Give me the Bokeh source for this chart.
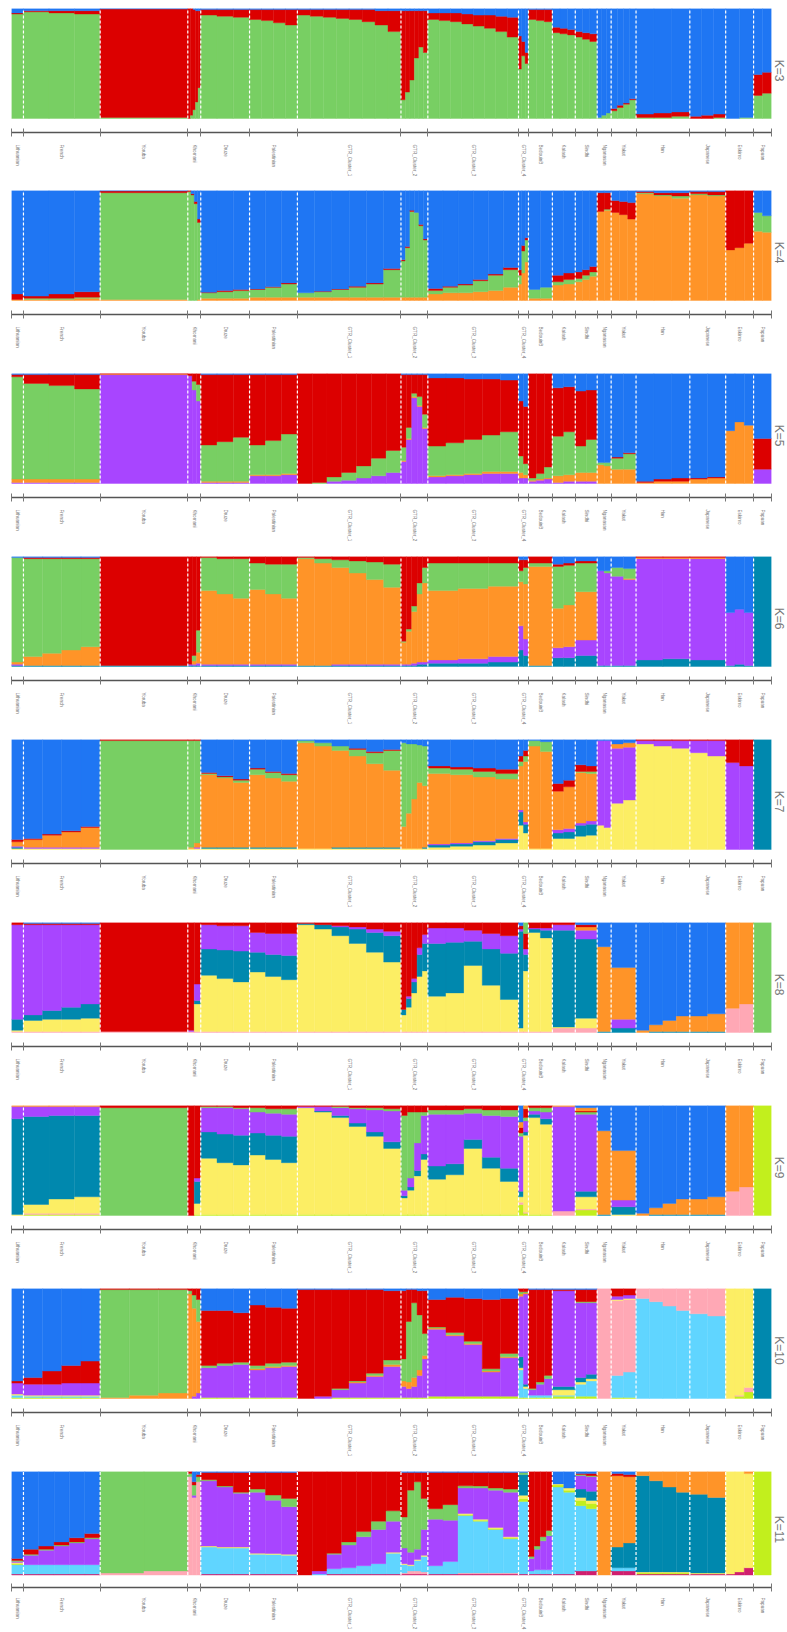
import math
from bokeh.plotting import figure
from bokeh.models import FixedTicker, Range1d, Title, ColumnDataSource
from bokeh.layouts import column
from bokeh.embed import file_html
from bokeh.resources import INLINE

POPS = ["Lithuanian", "French", "Yoruba", "Khomani", "Druze", "Palestinian",
        "GTR_Cluster_1", "GTR_Cluster_2", "GTR_Cluster_3", "GTR_Cluster_4",
        "BedouinB", "Kalash", "Sindhi", "Nganasan", "Yakut", "Han",
        "Japanese", "Eskimo", "Papuan"]
SIZES = [12, 77, 88, 13, 49, 48, 104, 27, 91, 10, 24, 23, 22, 14, 25, 54, 36, 28, 18]

BLUE = "#1f76f3"
RED = "#dc0000"
GREEN = "#78cf63"
ORANGE = "#ff9428"
PURPLE = "#a845ff"
TEAL = "#0088ae"
YELLOW = "#fcee64"
PINK = "#ffa8b5"
LBLUE = "#60d5ff"
LIME = "#c2ef1d"
MAGENTA = "#d01f6e"

# ---- K=3 (bottom -> top)
K3_COLORS = [GREEN, RED, BLUE]
K3 = [
    [(95, 1, 4)],
    [(97, 1, 2), (96, 2, 2), (95, 3, 2)],
    [(1, 98.5, 0.5)],
    [(0, 100, 0), (3, 97, 0), (8, 91, 1), (15, 83, 2), (28, 70, 2)],
    [(94, 5, 1), (93, 6, 1), (92, 7, 1)],
    [(90, 9, 1), (89, 10, 1), (87, 12, 1), (85, 14, 1)],
    [(94, 5, 1), (93, 6, 1), (92, 7, 1), (91, 8, 1), (90, 9, 1), (88, 11, 1), (85, 13, 2), (79, 19, 2)],
    [(17, 81, 2), (24, 74, 2), (35, 63, 2), (55, 43, 2), (65, 33, 2), (60, 38, 2)],
    [(90, 6, 4), (89, 7, 4), (88, 8, 4), (86, 9, 5), (84, 10, 6), (82, 12, 6), (79, 14, 7), (74, 18, 8)],
    [(45, 30, 25), (57, 13, 30), (50, 10, 40)],
    [(90, 9, 1), (89, 10, 1), (88, 11, 1)],
    [(78, 5, 17), (77, 5, 18), (76, 5, 19)],
    [(74, 5, 21), (72, 6, 22), (70, 7, 23)],
    [(1, 0, 99), (3, 0, 97), (5, 0, 95)],
    [(7, 2, 91), (10, 2, 88), (13, 1, 86), (17, 1, 82)],
    [(1, 3, 96), (1, 4, 95), (2, 4, 94)],
    [(0, 2, 98), (0, 3, 97), (1, 3, 96)],
    [(0, 0, 100), (1, 0, 99)],
    [(21, 19, 60), (23, 19, 58)],
]

# ---- K=4
K4_COLORS = [ORANGE, GREEN, RED, BLUE]
K4 = [
    [(1, 0, 5, 94)],
    [(1, 1, 2, 96), (1, 1, 4, 94), (2, 1, 5, 92)],
    [(1, 97, 1.5, 0.5)],
    [(0, 99, 1, 0), (0, 96, 1, 3), (0, 88, 2, 10), (1, 70, 3, 26)],
    [(2, 5, 0.5, 92.5), (2, 6, 1, 91), (2, 7, 1, 90)],
    [(3, 7, 0.5, 89.5), (3, 9, 0.5, 87.5), (3, 12, 1, 84)],
    [(3, 4, 0, 93), (3, 5, 0.5, 91.5), (3, 7, 0.5, 89.5), (3, 9, 1, 87), (3, 12, 1, 84), (3, 25, 1, 71)],
    [(3, 33, 1, 63), (3, 45, 1, 51), (3, 78, 1, 18), (3, 77, 0, 20), (3, 65, 1, 31), (3, 52, 1, 44)],
    [(6, 3, 2, 89), (7, 5, 1, 87), (7, 7, 1, 85), (8, 10, 1, 81), (9, 14, 1, 76), (12, 16, 2, 70)],
    [(15, 8, 5, 72), (25, 20, 5, 50), (35, 20, 2, 43)],
    [(2, 8, 0, 90), (2, 10, 0, 88)],
    [(14, 3, 6, 77), (15, 4, 6, 75)],
    [(17, 3, 6, 74), (19, 4, 5, 72), (22, 4, 5, 69)],
    [(81, 0, 17, 2), (82, 1, 15, 2)],
    [(80, 0, 11, 9), (78, 0, 12, 10), (74, 0, 15, 11)],
    [(97, 1, 1, 1), (95, 1, 2, 2), (93, 2, 3, 2)],
    [(96, 1, 2, 1), (95, 1, 3, 1)],
    [(46, 0, 54, 0), (48, 0, 52, 0), (52, 0, 48, 0)],
    [(63, 17, 0, 20), (62, 15, 0, 23)],
]

# ---- K=5
K5_COLORS = [PURPLE, ORANGE, GREEN, RED, BLUE]
K5 = [
    [(1, 3, 93, 2, 1)],
    [(1, 3, 87, 8, 1), (1, 3, 85, 10, 1), (1, 3, 82, 13, 1)],
    [(99, 0.5, 0, 0.5, 0)],
    [(98, 0, 0, 2, 0), (85, 0, 8, 7, 0), (75, 0, 15, 10, 0)],
    [(1, 1, 33, 64, 1), (1, 1, 36, 61, 1), (1, 1, 40, 57, 1)],
    [(7, 1, 27, 64, 1), (7, 1, 31, 60, 1), (8, 1, 36, 54, 1)],
    [(0, 0, 0, 100, 0), (0, 0, 1, 99, 0), (2, 0, 4, 94, 0), (3, 0, 7, 90, 0), (5, 0, 11, 84, 0), (7, 0, 16, 77, 0), (10, 0, 20, 70, 0)],
    [(20, 1, 12, 66, 1), (40, 1, 10, 48, 1), (78, 1, 3, 17, 1), (70, 1, 8, 20, 1), (50, 1, 12, 36, 1)],
    [(6, 1, 27, 62, 4), (7, 1, 29, 59, 4), (8, 1, 31, 55, 5), (9, 2, 33, 51, 5), (9, 2, 36, 47, 6)],
    [(5, 5, 15, 50, 25), (5, 3, 10, 52, 30)],
    [(2, 1, 2, 95, 0), (3, 1, 5, 91, 0), (4, 1, 10, 85, 0)],
    [(1, 6, 36, 44, 13), (2, 6, 39, 41, 12)],
    [(2, 8, 24, 50, 16), (2, 8, 30, 45, 15)],
    [(0, 17, 2, 0, 81), (0, 16, 3, 0, 81)],
    [(0, 13, 10, 1, 76), (0, 13, 14, 1, 72)],
    [(0, 1, 0, 1, 98), (0, 2, 0, 2, 96), (0, 2, 0, 3, 95)],
    [(0, 4, 0, 1, 95), (0, 5, 0, 1, 94)],
    [(0, 48, 0, 0, 52), (0, 56, 0, 0, 44), (0, 53, 0, 0, 47)],
    [(13, 0, 0, 28, 59)],
]

# ---- K=6
K6_COLORS = [TEAL, PURPLE, ORANGE, GREEN, RED, BLUE]
K6 = [
    [(1, 1, 2, 95, 0, 1)],
    [(1, 0, 8, 89, 1, 1), (1, 0, 11, 86, 1, 1), (1, 0, 14, 83, 1, 1), (1, 0, 17, 80, 1, 1)],
    [(1, 0, 0, 0, 99, 0)],
    [(1, 1, 0, 0, 98, 0), (1, 1, 3, 5, 90, 0), (1, 2, 10, 20, 67, 0)],
    [(1, 1, 67, 30, 1, 0), (1, 1, 64, 32, 2, 0), (1, 1, 60, 36, 2, 0)],
    [(1, 1, 68, 24, 6, 0), (1, 1, 64, 27, 7, 0), (1, 1, 60, 31, 7, 0)],
    [(1, 0, 97, 1, 1, 0), (1, 0, 93, 4, 2, 0), (1, 1, 88, 7, 3, 0), (1, 1, 83, 11, 4, 0), (1, 1, 77, 16, 5, 0), (1, 1, 70, 21, 7, 0)],
    [(1, 1, 20, 1, 77, 0), (1, 1, 30, 2, 66, 0), (1, 2, 47, 5, 45, 0), (2, 2, 62, 10, 24, 0), (2, 2, 72, 14, 10, 0)],
    [(3, 3, 63, 25, 6, 0), (3, 4, 64, 23, 6, 0), (4, 5, 64, 21, 6, 0)],
    [(15, 22, 40, 10, 10, 3), (10, 15, 50, 15, 7, 3)],
    [(1, 0, 90, 3, 6, 0)],
    [(8, 9, 36, 38, 2, 7), (8, 10, 38, 36, 2, 6)],
    [(10, 14, 44, 26, 2, 4)],
    [(1, 86, 0, 0, 0, 13), (1, 84, 0, 2, 0, 13)],
    [(1, 81, 0, 8, 0, 10), (1, 78, 1, 9, 0, 11)],
    [(6, 92, 1, 0, 1, 0), (7, 91, 1, 0, 1, 0)],
    [(6, 92, 1, 0, 1, 0)],
    [(1, 48, 0, 0, 0, 51), (2, 50, 0, 0, 0, 48), (1, 48, 0, 0, 0, 51)],
    [(100, 0, 0, 0, 0, 0)],
]

# ---- K=7
K7_COLORS = [YELLOW, TEAL, PURPLE, ORANGE, GREEN, RED, BLUE]
K7 = [
    [(1, 1, 1, 4, 0, 2, 91)],
    [(1, 0, 1, 7, 0, 1, 90), (1, 0, 1, 11, 0, 1, 86), (1, 0, 1, 14, 0, 1, 83), (1, 0, 1, 18, 0, 1, 79)],
    [(0, 0, 0, 0, 99, 1, 0)],
    [(1, 0, 0, 1, 97, 1, 0), (1, 0, 1, 4, 93, 1, 0)],
    [(1, 1, 0, 66, 1, 1, 30), (1, 1, 0, 63, 1, 1, 33), (1, 1, 0, 59, 2, 1, 36)],
    [(1, 1, 0, 66, 5, 1, 26), (1, 1, 0, 63, 5, 1, 29), (1, 1, 0, 60, 6, 1, 31)],
    [(1, 0, 0, 96, 2, 0, 1), (1, 0, 0, 93, 3, 0, 3), (1, 1, 0, 88, 4, 0, 6), (1, 1, 0, 83, 6, 1, 8), (1, 1, 0, 76, 10, 1, 11), (1, 1, 0, 70, 18, 1, 9)],
    [(1, 0, 0, 20, 76, 0, 3), (1, 0, 0, 32, 63, 0, 4), (1, 0, 0, 45, 50, 0, 4), (1, 0, 0, 60, 34, 0, 5), (1, 1, 0, 56, 36, 0, 6)],
    [(2, 2, 1, 64, 5, 2, 24), (3, 2, 1, 62, 5, 2, 25), (4, 3, 1, 58, 5, 3, 26), (6, 3, 1, 54, 5, 4, 27)],
    [(22, 12, 2, 40, 4, 5, 15), (15, 8, 2, 55, 5, 5, 10)],
    [(1, 0, 0, 93, 5, 0, 1), (1, 0, 0, 88, 9, 0, 2)],
    [(10, 5, 3, 35, 0, 7, 40), (10, 6, 3, 38, 0, 6, 37)],
    [(12, 10, 2, 46, 1, 6, 23), (13, 10, 3, 43, 2, 5, 24)],
    [(22, 0, 77, 0, 0, 0, 1), (20, 0, 79, 0, 0, 0, 1)],
    [(42, 0, 50, 4, 0, 0, 4), (45, 0, 48, 4, 0, 0, 3)],
    [(96, 0, 3, 0, 0, 1, 0), (94, 0, 5, 0, 0, 1, 0), (92, 0, 7, 0, 0, 1, 0)],
    [(88, 0, 11, 0, 0, 1, 0), (85, 0, 14, 0, 0, 1, 0)],
    [(0, 0, 79, 0, 0, 21, 0), (0, 0, 76, 0, 0, 24, 0)],
    [(0, 100, 0, 0, 0, 0, 0)],
]

# ---- K=8
K8_COLORS = [PINK, YELLOW, TEAL, PURPLE, ORANGE, RED, BLUE, GREEN]
K8 = [
    [(1, 1, 10, 86, 0, 2, 0, 0)],
    [(1, 10, 5, 82, 0, 1, 1, 0), (1, 11, 8, 78, 0, 1, 1, 0), (1, 11, 11, 75, 0, 1, 1, 0), (1, 12, 13, 72, 0, 1, 1, 0)],
    [(1, 0, 0, 0, 0, 99, 0, 0)],
    [(1, 0, 0, 1, 0, 98, 0, 0), (1, 25, 3, 15, 0, 56, 0, 0)],
    [(1, 51, 24, 22, 0, 2, 0, 0), (1, 48, 26, 22, 0, 3, 0, 0), (1, 45, 28, 23, 0, 3, 0, 0)],
    [(1, 54, 18, 18, 0, 9, 0, 0), (1, 50, 20, 19, 0, 10, 0, 0), (1, 47, 22, 20, 0, 10, 0, 0)],
    [(1, 97, 1, 0, 0, 1, 0, 0), (1, 93, 4, 0, 0, 2, 0, 0), (1, 87, 8, 1, 0, 3, 0, 0), (1, 80, 13, 2, 0, 4, 0, 0), (1, 72, 18, 3, 0, 6, 0, 0), (1, 63, 24, 4, 0, 8, 0, 0)],
    [(1, 15, 5, 0, 0, 79, 0, 0), (1, 22, 8, 2, 0, 67, 0, 0), (1, 35, 10, 3, 0, 51, 0, 0), (1, 50, 20, 6, 0, 23, 0, 0), (1, 55, 25, 8, 0, 11, 0, 0)],
    [(1, 32, 48, 14, 0, 5, 0, 0), (1, 35, 46, 13, 0, 5, 0, 0), (1, 60, 22, 10, 0, 7, 0, 0), (1, 42, 33, 14, 0, 10, 0, 0), (1, 29, 42, 16, 0, 12, 0, 0)],
    [(1, 3, 88, 2, 0, 3, 3, 0), (1, 55, 15, 5, 0, 14, 0, 10)],
    [(1, 90, 3, 1, 0, 5, 0, 0), (1, 85, 7, 2, 0, 5, 0, 0)],
    [(4, 1, 88, 5, 0, 2, 0, 0)],
    [(4, 9, 72, 8, 3, 2, 2, 0)],
    [(0, 0, 1, 0, 77, 0, 22, 0)],
    [(0, 0, 4, 8, 47, 0, 41, 0)],
    [(0, 0, 0, 0, 2, 0, 98, 0), (0, 0, 1, 0, 6, 0, 93, 0), (0, 0, 1, 0, 10, 0, 89, 0), (0, 0, 1, 0, 14, 0, 85, 0)],
    [(0, 0, 1, 0, 14, 0, 85, 0), (0, 0, 1, 0, 16, 0, 83, 0)],
    [(22, 0, 0, 0, 78, 0, 0, 0), (26, 0, 0, 0, 74, 0, 0, 0)],
    [(0, 0, 0, 0, 0, 0, 0, 100)],
]

# ---- K=9
K9_COLORS = [LIME, PINK, YELLOW, TEAL, PURPLE, GREEN, RED, ORANGE, BLUE]
K9 = [
    [(0, 0, 1, 87, 11, 0, 0, 1, 0)],
    [(1, 1, 8, 80, 9, 0, 0, 1, 0), (1, 1, 13, 76, 8, 0, 0, 1, 0), (1, 1, 15, 74, 8, 0, 0, 1, 0)],
    [(0, 0, 0, 0, 0, 98, 2, 0, 0)],
    [(0, 0, 0, 0, 0, 0, 100, 0, 0), (1, 0, 10, 20, 3, 0, 66, 0, 0)],
    [(1, 0, 51, 24, 22, 1, 1, 0, 0), (1, 0, 47, 26, 24, 1, 1, 0, 0), (1, 0, 45, 27, 24, 1, 2, 0, 0)],
    [(1, 0, 54, 20, 19, 4, 2, 0, 0), (1, 0, 50, 22, 20, 4, 3, 0, 0), (1, 0, 47, 24, 20, 5, 3, 0, 0)],
    [(1, 0, 97, 0, 1, 0, 1, 0, 0), (1, 0, 93, 1, 4, 0, 1, 0, 0), (1, 0, 88, 2, 7, 1, 1, 0, 0), (1, 0, 80, 3, 13, 1, 2, 0, 0), (1, 0, 71, 4, 20, 2, 2, 0, 0), (1, 0, 60, 6, 28, 2, 3, 0, 0)],
    [(1, 0, 15, 2, 5, 68, 9, 0, 0), (1, 0, 22, 3, 8, 60, 6, 0, 0), (1, 0, 35, 5, 25, 28, 6, 0, 0), (1, 0, 50, 5, 35, 3, 6, 0, 0)],
    [(1, 0, 32, 12, 47, 4, 4, 0, 0), (1, 0, 36, 10, 45, 4, 4, 0, 0), (1, 0, 60, 8, 24, 4, 3, 0, 0), (1, 0, 42, 10, 38, 5, 4, 0, 0), (1, 0, 30, 12, 47, 6, 4, 0, 0)],
    [(10, 2, 5, 5, 50, 3, 5, 5, 15), (2, 1, 70, 3, 10, 3, 8, 3, 0)],
    [(1, 0, 88, 3, 3, 3, 2, 0, 0), (1, 0, 82, 5, 6, 4, 2, 0, 0)],
    [(0, 4, 0, 0, 95, 0, 0, 1, 0)],
    [(5, 1, 11, 5, 70, 2, 1, 3, 2)],
    [(0, 0, 0, 1, 0, 0, 0, 76, 23)],
    [(0, 0, 1, 7, 6, 0, 0, 45, 41)],
    [(0, 0, 0, 0, 0, 0, 0, 2, 98), (0, 0, 0, 1, 0, 0, 0, 6, 93), (0, 0, 0, 1, 0, 0, 0, 10, 89), (0, 0, 0, 1, 0, 0, 0, 14, 85)],
    [(0, 0, 0, 1, 0, 0, 0, 14, 85), (0, 0, 0, 1, 0, 0, 0, 16, 83)],
    [(0, 22, 0, 0, 0, 0, 0, 78, 0), (0, 26, 0, 0, 0, 0, 0, 74, 0)],
    [(100, 0, 0, 0, 0, 0, 0, 0, 0)],
]

# ---- K=10
K10_COLORS = [LIME, LBLUE, PINK, YELLOW, TEAL, PURPLE, ORANGE, GREEN, RED, BLUE]
K10 = [
    [(1, 2, 0, 1, 0, 10, 0, 0, 2, 84)],
    [(1, 1, 0, 1, 0, 10, 0, 0, 6, 81), (1, 1, 0, 1, 0, 10, 0, 0, 12, 75), (1, 1, 0, 1, 0, 11, 0, 0, 16, 70), (1, 1, 0, 1, 0, 11, 0, 0, 20, 66)],
    [(0, 0, 0, 0, 0, 0, 1, 98, 1, 0), (0, 0, 0, 0, 0, 0, 3, 96, 1, 0), (0, 0, 0, 0, 0, 0, 5, 94, 1, 0)],
    [(0, 0, 0, 0, 0, 0, 95, 3, 2, 0), (0, 0, 0, 0, 0, 2, 80, 12, 6, 0), (0, 0, 0, 0, 0, 5, 65, 20, 10, 0)],
    [(1, 0, 0, 0, 0, 27, 0, 2, 50, 20), (1, 0, 0, 0, 0, 29, 0, 2, 48, 20), (1, 0, 0, 0, 0, 30, 0, 2, 45, 22)],
    [(1, 0, 0, 0, 0, 25, 1, 3, 55, 15), (1, 0, 0, 0, 0, 27, 1, 3, 51, 17), (1, 0, 0, 0, 0, 28, 1, 3, 49, 18)],
    [(0, 0, 0, 0, 0, 0, 0, 0, 99, 1), (0, 0, 0, 0, 0, 2, 0, 0, 97, 1), (1, 0, 0, 0, 0, 7, 0, 1, 90, 1), (1, 0, 0, 0, 0, 13, 1, 1, 83, 1), (1, 0, 0, 0, 0, 19, 1, 2, 76, 1), (1, 0, 0, 0, 0, 28, 2, 4, 63, 2)],
    [(1, 0, 0, 0, 0, 10, 5, 20, 62, 2), (1, 0, 0, 0, 0, 8, 6, 55, 29, 1), (1, 0, 0, 0, 0, 10, 8, 68, 12, 1), (1, 0, 0, 0, 0, 20, 5, 50, 22, 2), (1, 0, 0, 0, 0, 35, 3, 20, 39, 2)],
    [(2, 0, 0, 0, 0, 61, 1, 1, 25, 10), (2, 0, 0, 0, 0, 55, 1, 2, 32, 8), (2, 0, 0, 0, 0, 47, 1, 2, 39, 9), (2, 0, 0, 0, 0, 22, 1, 2, 63, 10), (2, 0, 0, 0, 0, 35, 1, 3, 50, 9)],
    [(1, 25, 0, 2, 10, 55, 2, 2, 3, 0), (1, 8, 0, 2, 2, 82, 1, 1, 3, 0)],
    [(1, 2, 0, 0, 0, 5, 0, 1, 90, 1), (1, 2, 0, 0, 0, 10, 0, 2, 84, 1), (1, 2, 0, 0, 0, 15, 0, 3, 78, 1)],
    [(2, 1, 0, 5, 3, 87, 0, 0, 1, 1)],
    [(2, 11, 0, 2, 4, 68, 0, 1, 11, 1), (2, 14, 0, 2, 4, 65, 0, 1, 11, 1)],
    [(0, 0, 100, 0, 0, 0, 0, 0, 0, 0)],
    [(1, 20, 68, 1, 0, 3, 0, 0, 7, 0), (1, 23, 66, 1, 0, 3, 0, 0, 6, 0)],
    [(0, 91, 9, 0, 0, 0, 0, 0, 0, 0), (0, 88, 12, 0, 0, 0, 0, 0, 0, 0), (0, 84, 16, 0, 0, 0, 0, 0, 0, 0), (0, 80, 20, 0, 0, 0, 0, 0, 0, 0)],
    [(0, 77, 23, 0, 0, 0, 0, 0, 0, 0), (0, 75, 25, 0, 0, 0, 0, 0, 0, 0)],
    [(0, 0, 0, 100, 0, 0, 0, 0, 0, 0), (2, 0, 1, 97, 0, 0, 0, 0, 0, 0), (6, 0, 4, 90, 0, 0, 0, 0, 0, 0)],
    [(0, 0, 0, 0, 100, 0, 0, 0, 0, 0)],
]

# ---- K=11
K11_COLORS = [MAGENTA, PINK, LBLUE, LIME, YELLOW, TEAL, PURPLE, GREEN, ORANGE, RED, BLUE]
K11 = [
    [(1, 0, 9, 1, 1, 0, 1, 1, 0, 2, 84)],
    [(1, 0, 9, 0, 0, 0, 9, 1, 0, 5, 75), (1, 0, 9, 0, 0, 0, 14, 1, 0, 3, 72), (1, 0, 9, 0, 0, 0, 18, 1, 0, 3, 68), (1, 0, 9, 0, 0, 0, 21, 1, 0, 4, 64), (1, 0, 9, 0, 0, 0, 25, 1, 0, 4, 60)],
    [(0, 2, 0, 0, 0, 0, 0, 98, 0, 0, 0), (0, 4, 0, 0, 0, 0, 0, 96, 0, 0, 0)],
    [(0, 95, 0, 0, 0, 0, 0, 3, 0, 2, 0), (0, 75, 0, 0, 0, 0, 2, 10, 0, 3, 10), (0, 90, 0, 0, 0, 0, 0, 5, 0, 2, 3)],
    [(1, 0, 26, 0, 1, 0, 63, 1, 0, 7, 1), (1, 0, 25, 0, 1, 0, 58, 1, 0, 13, 1), (1, 0, 25, 0, 1, 0, 52, 1, 0, 19, 1)],
    [(1, 0, 19, 0, 1, 0, 59, 3, 0, 16, 1), (1, 0, 19, 0, 1, 0, 52, 5, 0, 22, 1), (1, 0, 18, 0, 1, 0, 46, 8, 0, 25, 1)],
    [(0, 0, 0, 0, 0, 0, 0, 0, 0, 100, 0), (0, 0, 1, 0, 0, 0, 3, 0, 0, 96, 0), (1, 0, 5, 0, 0, 0, 14, 1, 0, 79, 0), (1, 0, 6, 0, 0, 0, 22, 3, 0, 68, 0), (1, 0, 8, 0, 0, 0, 28, 5, 0, 58, 0), (1, 0, 10, 0, 0, 0, 33, 8, 0, 48, 0), (1, 0, 20, 0, 1, 0, 30, 10, 0, 38, 0)],
    [(1, 1, 8, 0, 1, 0, 15, 30, 0, 43, 1), (1, 3, 5, 0, 1, 0, 12, 60, 0, 17, 1), (1, 3, 10, 0, 1, 0, 10, 65, 0, 9, 1), (1, 2, 15, 0, 1, 0, 25, 30, 0, 25, 1)],
    [(1, 0, 8, 0, 0, 0, 45, 10, 0, 35, 1), (1, 0, 12, 0, 0, 0, 40, 15, 0, 31, 1), (1, 1, 56, 1, 1, 0, 25, 2, 0, 13, 1), (1, 1, 50, 1, 1, 0, 30, 2, 0, 13, 1), (1, 1, 42, 1, 1, 0, 36, 2, 0, 15, 1), (1, 1, 33, 1, 1, 0, 43, 3, 0, 16, 1)],
    [(1, 0, 70, 3, 3, 20, 0, 2, 0, 0, 1)],
    [(1, 0, 3, 0, 0, 0, 12, 2, 0, 82, 0), (1, 0, 4, 0, 0, 0, 20, 3, 0, 72, 0), (1, 0, 4, 0, 0, 0, 28, 4, 0, 63, 0), (1, 0, 4, 0, 0, 0, 33, 5, 0, 57, 0)],
    [(1, 0, 84, 2, 1, 0, 0, 0, 0, 0, 12), (1, 0, 79, 2, 2, 0, 0, 0, 0, 0, 16)],
    [(4, 0, 63, 5, 3, 8, 13, 1, 0, 1, 2), (4, 0, 60, 5, 3, 9, 14, 1, 0, 2, 2)],
    [(0, 0, 0, 0, 0, 0, 0, 0, 100, 0, 0)],
    [(4, 0, 3, 0, 0, 20, 0, 0, 69, 2, 2), (4, 0, 3, 0, 0, 24, 0, 0, 64, 2, 3)],
    [(1, 0, 0, 1, 1, 93, 0, 0, 4, 0, 0), (1, 0, 0, 1, 1, 88, 0, 0, 9, 0, 0), (1, 0, 0, 1, 1, 82, 0, 0, 15, 0, 0), (1, 0, 0, 1, 1, 77, 0, 0, 20, 0, 0)],
    [(1, 0, 0, 0, 1, 76, 0, 0, 22, 0, 0), (1, 0, 0, 0, 1, 73, 0, 0, 25, 0, 0)],
    [(1, 0, 0, 0, 99, 0, 0, 0, 0, 0, 0), (3, 0, 0, 0, 97, 0, 0, 0, 0, 0, 0), (7, 0, 0, 0, 91, 0, 0, 0, 2, 0, 0)],
    [(0, 0, 0, 100, 0, 0, 0, 0, 0, 0, 0)],
]

PANELS = [("K=3", K3_COLORS, K3), ("K=4", K4_COLORS, K4), ("K=5", K5_COLORS, K5),
          ("K=6", K6_COLORS, K6), ("K=7", K7_COLORS, K7), ("K=8", K8_COLORS, K8),
          ("K=9", K9_COLORS, K9), ("K=10", K10_COLORS, K10), ("K=11", K11_COLORS, K11)]

TOTAL = sum(SIZES)
BOUNDS = [0]
for s in SIZES:
    BOUNDS.append(BOUNDS[-1] + s)
CENTERS = [(BOUNDS[i] + BOUNDS[i + 1]) / 2 for i in range(len(SIZES))]


def make_panel(label, colors, bars, top_pad, height, bar_px=110, gap_px=14,
               standoff=8):
    frame_px = bar_px + gap_px
    p = figure(width=787, height=height, x_range=Range1d(0, TOTAL),
               y_range=Range1d(-gap_px / bar_px, 1.0),
               output_backend="svg", toolbar_location=None,
               min_border_left=11, min_border_right=0, min_border_top=top_pad,
               min_border_bottom=height - top_pad - frame_px,
               y_axis_location=None,
               outline_line_color=None, background_fill_color="white",
               border_fill_color="white")
    p.grid.visible = False

    data = {"left": [], "right": [], "bottom": [], "top": [], "color": []}
    for start, size, profiles in zip(BOUNDS[:-1], SIZES, bars):
        w = size / len(profiles)
        for j, prof in enumerate(profiles):
            tot = float(sum(prof))
            cum = 0.0
            for c, v in zip(colors, prof):
                if v <= 0:
                    continue
                data["left"].append(start + j * w)
                data["right"].append(start + (j + 1) * w)
                data["bottom"].append(cum / tot)
                cum += v
                data["top"].append(cum / tot)
                data["color"].append(c)
    p.quad(source=ColumnDataSource(data), left="left", right="right",
           bottom="bottom", top="top", fill_color="color", line_color="color",
           line_width=0.4)

    inner = BOUNDS[1:-1]
    p.segment(x0=inner, y0=[0] * len(inner), x1=inner, y1=[1] * len(inner),
              line_color="white", line_dash="3 2", line_width=1.2)

    ax = p.xaxis[0]
    ax.ticker = FixedTicker(ticks=CENTERS, minor_ticks=BOUNDS)
    ax.major_label_overrides = {c: n for c, n in zip(CENTERS, POPS)}
    ax.axis_line_color = "#555555"
    ax.axis_line_width = 1.6
    ax.major_tick_line_color = None
    ax.major_tick_in = 0
    ax.major_tick_out = 0
    ax.minor_tick_line_color = "#777777"
    ax.minor_tick_line_width = 1
    ax.minor_tick_in = 4
    ax.minor_tick_out = 4
    ax.major_label_orientation = -math.pi / 2
    ax.major_label_standoff = standoff
    ax.major_label_text_font = "Liberation Sans"
    ax.major_label_text_font_size = "4.6px"
    ax.major_label_text_color = "#777777"

    t = Title(text=label, align="center", text_font_size="12px",
              text_font_style="normal", text_color="#777777",
              text_font="Liberation Sans", standoff=0, offset=0)
    p.add_layout(t, "right")
    return p


figs = []
last = len(PANELS) - 1
for i, pan in enumerate(PANELS):
    if i == 0:
        figs.append(make_panel(*pan, top_pad=8, height=190))
    elif i == last:
        figs.append(make_panel(*pan, top_pad=0, height=161, bar_px=108,
                               gap_px=13, standoff=6))
    else:
        figs.append(make_panel(*pan, top_pad=0, height=183))
layout = column(*figs, spacing=0)
open("out.html", "w").write(file_html(layout, INLINE))
